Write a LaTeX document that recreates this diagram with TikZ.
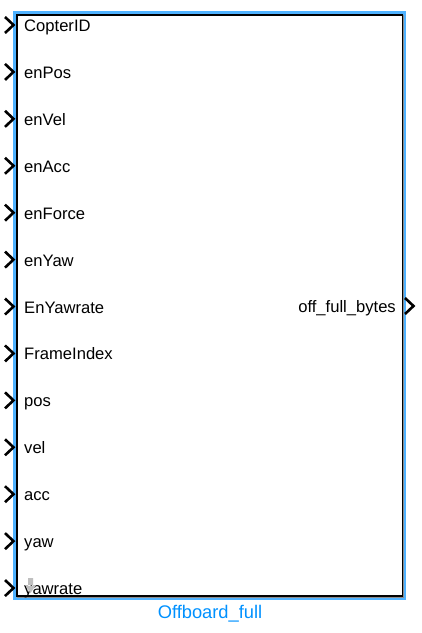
\documentclass[tikz,border=0pt]{standalone}
\usepackage{fontspec}
\setmainfont{Liberation Sans}
\usetikzlibrary{calc, positioning}
\definecolor{blkblue}{RGB}{79,178,255}
\definecolor{lblblue}{RGB}{0,145,255}

\begin{document}
\begin{tikzpicture}[x=1pt, y=-1pt,
  lbl/.style={anchor=base west, inner sep=0pt, font=\fontsize{16.6}{18}\selectfont},
  chev/.style={line width=2.6pt, line cap=butt, line join=miter}]
\useasboundingbox (0,0) rectangle (422,633);
% block
\fill[blkblue] (13,11) rectangle (406,600);
\fill[black!45] (17,15) rectangle (404,598);
\draw[black, line width=1.3pt, fill=white] (17,15) rectangle (402.5,596);
% inputs
\foreach \name [count=\i from 0] in {CopterID, enPos, enVel, enAcc, enForce, enYaw, EnYawrate, FrameIndex, pos, vel, acc, yaw, yawrate} {
  \node[lbl] (in\i) at (24, 31.5+46.92*\i) {\name};
  \draw[chev] (5, 17+46.92*\i) -- (13.5, 25+46.92*\i) -- (5, 33+46.92*\i);
}
% output
\node[lbl, anchor=base east] (out) at (396,312.5) {off\_full\_bytes};
\draw[chev] (405,298) -- (413.5,306) -- (405,314);
% small marker on last port
\fill[black!25] (28,578) rectangle (33,586) (25,585) -- (36,585) -- (30.5,593) -- cycle;
% block name
\node[font=\fontsize{18.3}{20}\selectfont, text=lblblue] (blk) at (210,614) {Offboard\_full};
\end{tikzpicture}
\end{document}
